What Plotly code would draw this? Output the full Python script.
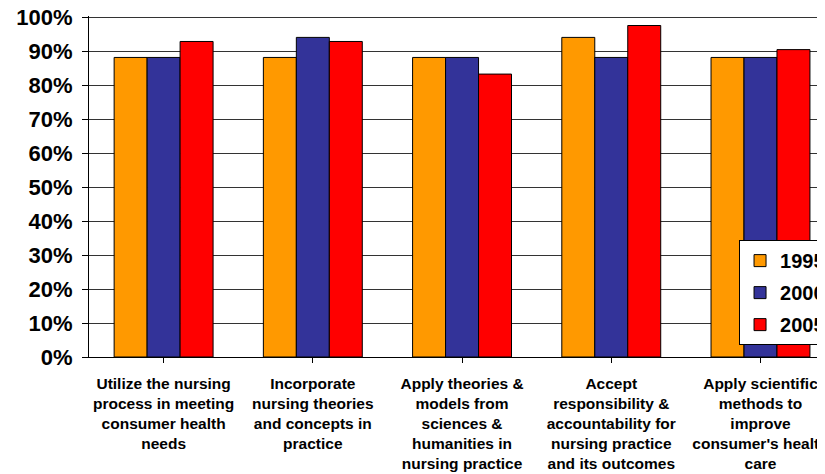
import plotly.graph_objects as go

categories = [
    "Utilize the nursing<br>process in meeting<br>consumer health<br>needs",
    "Incorporate<br>nursing theories<br>and concepts in<br>practice",
    "Apply theories &<br>models from<br>sciences &<br>humanities in<br>nursing practice",
    "Accept<br>responsibility &<br>accountability for<br>nursing practice<br>and its outcomes",
    "Apply scientific<br>methods to<br>improve<br>consumer's health<br>care",
]
series_names = ["1995", "2000", "2005"]
values_1995 = [88.2, 88.2, 88.2, 94.1, 88.2]
values_2000 = [88.2, 94.1, 88.2, 88.2, 88.2]
values_2005 = [92.9, 92.9, 83.3, 97.6, 90.5]
colors = ["#FF9900", "#333399", "#FF0000"]
y_ticks = [0, 10, 20, 30, 40, 50, 60, 70, 80, 90, 100]
y_tick_labels = [f"{v}%" for v in y_ticks]

font_family = "Liberation Sans, Arial, sans-serif"

fig = go.Figure()
for name, vals, col in zip(series_names, [values_1995, values_2000, values_2005], colors):
    fig.add_trace(go.Bar(
        x=list(range(len(categories))), y=vals, name=name, legendgroup=name,
        marker=dict(color=col, line=dict(color="#000000", width=1)),
    ))

# page body has an 8px default margin, so the figure is drawn 8px in
OFF = 8
Y_TOP = 100.4
W, H = 825 - OFF, 474 - OFF
ml, mr, mt, mb = 88.6 - OFF, 0, 17 - 0.4 * 3.4 - OFF, 117
pw = W - ml - mr
ph = H - mt - mb

fig.update_layout(
    width=W, height=H,
    margin=dict(l=ml, r=mr, t=mt, b=mb, autoexpand=False),
    paper_bgcolor="white", plot_bgcolor="white",
    barmode="group", bargap=0.337, bargroupgap=0,
    font=dict(family=font_family, color="#000000"),
    showlegend=True,
    legend=dict(
        x=(739 - OFF - ml) / pw, y=(H + OFF - mb - 240) / ph, xanchor="left", yanchor="top",
        bgcolor="white", bordercolor="#000000", borderwidth=1,
        font=dict(size=20, family=font_family, color="#000000", weight="bold"),
        tracegroupgap=3, itemwidth=30,
    ),
    xaxis=dict(
        tickmode="array", tickvals=list(range(len(categories))), ticktext=[f"<b>{c}</b>" for c in categories],
        range=[-0.5, -0.5 + pw / 149.3],
        tickangle=0, tickson="boundaries", ticks="outside", ticklen=5, tickcolor="#000000",
        showline=True, linecolor="#000000", linewidth=1,
        tickfont=dict(size=15.5, family=font_family, color="#000000"),
        ticklabeloverflow="allow", ticklabelstandoff=7,
        showgrid=False, fixedrange=True,
    ),
    yaxis=dict(
        range=[0, Y_TOP], tickmode="array", tickvals=y_ticks, ticktext=y_tick_labels,
        ticks="outside", ticklen=6, tickcolor="#000000",
        showline=True, linecolor="#000000", linewidth=1,
        showgrid=True, gridcolor="#333333", gridwidth=1,
        tickfont=dict(size=22, family=font_family, color="#000000", weight="bold"),
        ticklabelstandoff=5, ticklabeloverflow="allow",
        zeroline=False, fixedrange=True,
    ),
)

fig.write_html("out.html")
